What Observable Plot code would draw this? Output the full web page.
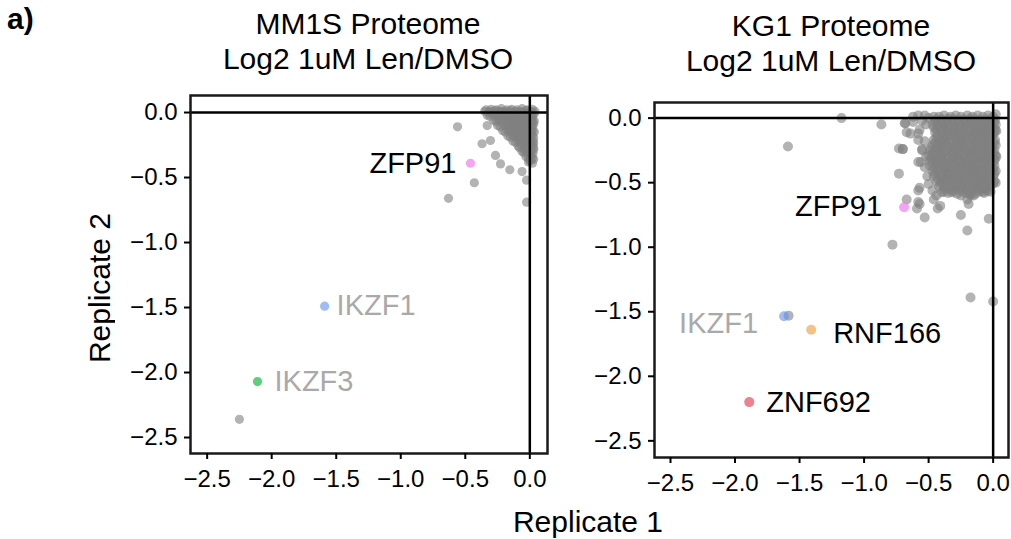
<!DOCTYPE html>
<html>
<head>
<meta charset="utf-8">
<script src="https://cdn.jsdelivr.net/npm/d3@7"></script>
<script src="https://cdn.jsdelivr.net/npm/@observablehq/plot@0.6"></script>
<style>
  body { margin: 0; background: white; }
  #wrap { position: relative; width: 1011px; height: 539px; overflow: hidden; background: white;
          font-family: 'Liberation Sans', Arial, Helvetica, sans-serif; color: black; }
  .abs { position: absolute; white-space: nowrap; }
  .title { font-size: 30px; line-height: 35px; text-align: center; transform: translateX(-50%); }
</style>
</head>
<body>
<div id="wrap">
  <div class="abs" style="left:7px; top:2px; font-size:30px; font-weight:bold;">a)</div>
  <div class="abs title" style="left:368px; top:6px;">MM1S Proteome<br>Log2 1uM Len/DMSO</div>
  <div class="abs title" style="left:831px; top:8px;">KG1 Proteome<br>Log2 1uM Len/DMSO</div>
  <div class="abs" style="left:100px; top:288px; font-size:30px; transform: translate(-50%,-50%) rotate(-90deg);">Replicate 2</div>
  <div class="abs" style="left:588px; top:522px; font-size:30px; transform: translate(-50%,-50%);">Replicate 1</div>
  <div id="p1" class="abs" style="left:115px; top:85px;"></div>
  <div id="p2" class="abs" style="left:580px; top:92px;"></div>
</div>
<script>
// ---------- data ----------
const xTicks = [-2.5, -2.0, -1.5, -1.0, -0.5, 0.0];
const yTicks = [-2.5, -2.0, -1.5, -1.0, -0.5, 0.0];

// MM1S: background proteins [replicate1, replicate2]
const mm1sGray = [
  [-2.25,-2.36],[-0.63,-0.66],[-0.43,-0.54],[-0.56,-0.11],[-0.025,-0.69],[-0.025,-0.52],
  [-0.155,-0.44],[-0.227,-0.395],[-0.37,-0.24],[-0.305,-0.215],[-0.06,-0.454],[-0.266,-0.33],[-0.33,-0.10],
  [-0.34,0.02],[-0.30,0.025],[-0.26,0.02],[-0.22,0.03],[-0.18,0.02],[-0.14,0.025],[-0.10,0.02],[-0.06,0.03],[-0.02,0.02],[0.02,0.025],
  [-0.33,-0.02],[-0.29,-0.01],[-0.25,-0.02],[-0.21,-0.015],[-0.16,-0.02],[-0.12,-0.01],[-0.08,-0.02],[-0.04,-0.015],[0.0,-0.02],[0.035,-0.01],
  [-0.28,-0.06],[-0.24,-0.055],[-0.20,-0.06],[-0.15,-0.05],[-0.11,-0.06],[-0.07,-0.055],[-0.03,-0.06],[0.01,-0.05],[0.035,-0.065],
  [-0.25,-0.10],[-0.20,-0.095],[-0.16,-0.10],[-0.12,-0.09],[-0.08,-0.10],[-0.04,-0.095],[0.0,-0.10],[0.03,-0.09],
  [-0.21,-0.14],[-0.17,-0.135],[-0.13,-0.14],[-0.09,-0.13],[-0.05,-0.14],[-0.01,-0.135],[0.025,-0.14],
  [-0.17,-0.18],[-0.13,-0.175],[-0.09,-0.18],[-0.05,-0.17],[-0.02,-0.185],[0.02,-0.18],
  [-0.13,-0.22],[-0.09,-0.215],[-0.05,-0.22],[-0.01,-0.21],[0.025,-0.22],
  [-0.09,-0.26],[-0.06,-0.255],[-0.02,-0.26],[0.02,-0.25],
  [-0.06,-0.30],[-0.03,-0.295],[0.01,-0.30],[0.03,-0.285],
  [-0.03,-0.34],[0.01,-0.335],[0.03,-0.36],
  [-0.01,-0.38],[0.02,-0.39],
  [-0.32,0.0],[-0.27,0.0],[-0.23,0.005],[-0.19,0.0],[-0.14,0.0],[-0.10,-0.005],[-0.06,0.0],[-0.02,0.0],[0.015,0.0],
  [-0.22,-0.04],[-0.18,-0.035],[-0.13,-0.04],[-0.09,-0.035],[-0.05,-0.04],[-0.01,-0.035],[0.02,-0.04],
  [-0.18,-0.08],[-0.14,-0.075],[-0.10,-0.08],[-0.06,-0.075],[-0.02,-0.08],[0.015,-0.075],
  [-0.15,-0.12],[-0.11,-0.115],[-0.07,-0.12],[-0.03,-0.115],[0.01,-0.12],
  [-0.11,-0.16],[-0.07,-0.155],[-0.03,-0.16],[0.01,-0.155],
  [-0.08,-0.20],[-0.04,-0.195],[0.0,-0.20],
  [-0.04,-0.24],[0.0,-0.235],[-0.04,-0.28],[0.0,-0.32],
  [-0.35,0.01],[-0.31,0.01],[-0.27,0.015],[-0.23,0.01],[-0.19,0.01],[-0.15,0.015],[-0.11,0.01],[-0.07,0.01],[-0.03,0.015],[0.01,0.01],[0.04,0.01],
  [-0.31,-0.03],[-0.27,-0.03],[-0.23,-0.025],[-0.19,-0.03],[-0.14,-0.03],[-0.10,-0.025],[-0.06,-0.03],[-0.02,-0.03],[0.02,-0.025],
  [-0.26,-0.07],[-0.22,-0.07],[-0.17,-0.065],[-0.13,-0.07],[-0.09,-0.07],[-0.05,-0.065],[-0.01,-0.07],[0.025,-0.07],
  [-0.23,-0.11],[-0.18,-0.11],[-0.14,-0.105],[-0.10,-0.11],[-0.06,-0.11],[-0.02,-0.105],[0.02,-0.11],
  [-0.19,-0.15],[-0.15,-0.15],[-0.11,-0.145],[-0.07,-0.15],[-0.03,-0.15],[0.01,-0.145],[0.035,-0.15],
  [-0.15,-0.19],[-0.11,-0.19],[-0.07,-0.185],[-0.03,-0.19],[0.0,-0.19],[0.03,-0.195],
  [-0.11,-0.23],[-0.07,-0.23],[-0.03,-0.225],[0.0,-0.23],[0.03,-0.235],
  [-0.08,-0.27],[-0.04,-0.27],[0.0,-0.265],[0.03,-0.27],
  [-0.045,-0.31],[-0.01,-0.31],[0.025,-0.315],
  [-0.01,-0.35],[0.02,-0.35],[0.0,-0.37]
];
const mm1sHits = [
  {gene: "ZFP91", x: -0.46, y: -0.39},
  {gene: "IKZF1", x: -1.59, y: -1.49},
  {gene: "IKZF3", x: -2.11, y: -2.07}
];

// KG1: background proteins [replicate1, replicate2]
const kg1Gray = [
  [-1.175,0.0],[-0.866,-0.05],[-1.59,-0.22],[-0.685,-0.04],[-0.64,-0.12],[-0.58,-0.17],[-0.73,-0.235],[-0.70,-0.24],
  [-0.55,-0.25],[-0.58,-0.34],[-0.73,-0.43],[-0.57,-0.54],[-0.67,-0.63],[-0.57,-0.665],[-0.59,-0.70],[-0.53,-0.77],
  [-0.43,-0.70],[-0.25,-0.75],[-0.19,-0.665],[-0.175,-0.60],[-0.20,-0.87],[-0.034,-0.78],[-0.78,-0.98],
  [-0.175,-1.39],[0.0,-1.42],[-1.585,-1.53],[-0.40,-0.575],[-0.32,-0.575],[-0.08,-0.57],[-0.50,-0.51],[-0.47,-0.56],
  [-0.67,-0.11],[-0.58,-0.12],[-0.55,-0.24],[-0.56,-0.34],[-0.70,-0.24],[-0.58,-0.56],[-0.46,-0.63],[-0.58,-0.65],
  [-0.41,-0.68],[-0.20,-0.63],[-0.18,-0.59],[-0.12,-0.55],[-0.06,-0.54],
  [-0.68,-0.04],[-0.62,0.01],[-0.58,0.02],[-0.53,0.02],[-0.50,0.0],[-0.55,-0.02],[-0.52,-0.05],[-0.57,-0.09],
  [-0.62,-0.03],[-0.53,-0.18],[-0.52,-0.30],[-0.53,-0.38],[-0.51,-0.45],[-0.44,-0.60],[-0.25,-0.60],[-0.15,-0.60],
  [-0.02,-0.57],[0.02,-0.50],[0.025,-0.30],[0.025,-0.10],[0.02,0.03],
  [-0.46,0.01],[-0.42,0.01],[-0.38,0.02],[-0.33,0.01],[-0.29,0.02],[-0.25,0.01],[-0.20,0.02],[-0.16,0.01],[-0.12,0.02],[-0.08,0.01],[-0.04,0.02],[0.0,0.01],
  [-0.45,-0.03],[-0.40,-0.03],[-0.36,-0.025],[-0.31,-0.03],[-0.27,-0.035],[-0.22,-0.03],[-0.18,-0.025],[-0.14,-0.03],[-0.10,-0.035],[-0.06,-0.03],[-0.02,-0.025],[0.01,-0.03],
  [-0.46,-0.07],[-0.42,-0.07],[-0.38,-0.065],[-0.34,-0.07],[-0.29,-0.075],[-0.25,-0.07],[-0.21,-0.065],[-0.16,-0.07],[-0.12,-0.075],[-0.08,-0.07],[-0.04,-0.065],[0.0,-0.07],
  [-0.45,-0.11],[-0.40,-0.11],[-0.36,-0.105],[-0.31,-0.11],[-0.27,-0.115],[-0.23,-0.11],[-0.19,-0.105],[-0.14,-0.11],[-0.10,-0.115],[-0.06,-0.11],[-0.02,-0.105],[0.01,-0.11],
  [-0.44,-0.15],[-0.39,-0.15],[-0.35,-0.145],[-0.30,-0.15],[-0.26,-0.155],[-0.21,-0.15],[-0.17,-0.145],[-0.13,-0.15],[-0.09,-0.155],[-0.05,-0.15],[-0.01,-0.145],
  [-0.45,-0.19],[-0.41,-0.19],[-0.37,-0.185],[-0.32,-0.19],[-0.28,-0.195],[-0.24,-0.19],[-0.19,-0.185],[-0.15,-0.19],[-0.11,-0.195],[-0.07,-0.19],[-0.03,-0.185],[0.01,-0.19],
  [-0.48,-0.23],[-0.43,-0.23],[-0.39,-0.225],[-0.34,-0.23],[-0.30,-0.235],[-0.26,-0.23],[-0.22,-0.225],[-0.17,-0.23],[-0.13,-0.235],[-0.09,-0.23],[-0.05,-0.225],[-0.01,-0.23],
  [-0.47,-0.27],[-0.42,-0.27],[-0.38,-0.265],[-0.33,-0.27],[-0.29,-0.275],[-0.25,-0.27],[-0.20,-0.265],[-0.16,-0.27],[-0.12,-0.275],[-0.08,-0.27],[-0.04,-0.265],[0.0,-0.27],
  [-0.48,-0.31],[-0.44,-0.31],[-0.40,-0.305],[-0.35,-0.31],[-0.31,-0.315],[-0.27,-0.31],[-0.22,-0.305],[-0.18,-0.31],[-0.14,-0.315],[-0.10,-0.31],[-0.06,-0.305],[-0.02,-0.31],[0.01,-0.315],
  [-0.47,-0.35],[-0.43,-0.35],[-0.38,-0.345],[-0.34,-0.35],[-0.30,-0.355],[-0.25,-0.35],[-0.21,-0.345],[-0.17,-0.35],[-0.13,-0.355],[-0.09,-0.35],[-0.05,-0.345],[-0.01,-0.35],
  [-0.46,-0.39],[-0.41,-0.39],[-0.37,-0.385],[-0.33,-0.39],[-0.28,-0.395],[-0.24,-0.39],[-0.20,-0.385],[-0.16,-0.39],[-0.12,-0.395],[-0.08,-0.39],[-0.04,-0.385],[0.0,-0.39],
  [-0.45,-0.43],[-0.40,-0.43],[-0.36,-0.425],[-0.32,-0.43],[-0.27,-0.435],[-0.23,-0.43],[-0.19,-0.425],[-0.15,-0.43],[-0.11,-0.435],[-0.07,-0.43],[-0.03,-0.425],[0.01,-0.43],
  [-0.43,-0.47],[-0.39,-0.47],[-0.35,-0.465],[-0.30,-0.47],[-0.26,-0.475],[-0.22,-0.47],[-0.18,-0.465],[-0.14,-0.47],[-0.10,-0.475],[-0.06,-0.47],[-0.02,-0.465],
  [-0.41,-0.51],[-0.37,-0.51],[-0.32,-0.505],[-0.28,-0.51],[-0.24,-0.515],[-0.20,-0.51],[-0.16,-0.505],[-0.12,-0.51],[-0.08,-0.515],[-0.04,-0.51],[0.0,-0.505],
  [-0.38,-0.55],[-0.33,-0.55],[-0.29,-0.545],[-0.25,-0.55],[-0.21,-0.555],[-0.17,-0.55],[-0.13,-0.545],[-0.09,-0.55],[-0.05,-0.555],
  [-0.35,-0.58],[-0.28,-0.585],[-0.21,-0.58],[-0.14,-0.585],[-0.07,-0.58],
  [-0.44,-0.01],[-0.40,-0.01],[-0.35,-0.005],[-0.31,-0.01],[-0.27,-0.015],[-0.23,-0.01],[-0.18,-0.005],[-0.14,-0.01],[-0.10,-0.015],[-0.06,-0.01],[-0.02,-0.005],[0.015,-0.01],
  [-0.47,-0.05],[-0.43,-0.05],[-0.38,-0.045],[-0.34,-0.05],[-0.30,-0.055],[-0.25,-0.05],[-0.21,-0.045],[-0.17,-0.05],[-0.13,-0.055],[-0.09,-0.05],[-0.05,-0.045],[-0.01,-0.05],[0.02,-0.05],
  [-0.44,-0.09],[-0.40,-0.09],[-0.36,-0.085],[-0.31,-0.09],[-0.27,-0.095],[-0.23,-0.09],[-0.19,-0.085],[-0.14,-0.09],[-0.10,-0.095],[-0.06,-0.09],[-0.02,-0.085],[0.015,-0.09],
  [-0.43,-0.13],[-0.38,-0.13],[-0.34,-0.125],[-0.29,-0.13],[-0.25,-0.135],[-0.21,-0.13],[-0.16,-0.125],[-0.12,-0.13],[-0.08,-0.135],[-0.04,-0.13],[0.0,-0.125],
  [-0.46,-0.17],[-0.42,-0.17],[-0.37,-0.165],[-0.33,-0.17],[-0.28,-0.175],[-0.24,-0.17],[-0.19,-0.165],[-0.15,-0.17],[-0.11,-0.175],[-0.07,-0.17],[-0.03,-0.165],[0.015,-0.17],
  [-0.47,-0.21],[-0.43,-0.21],[-0.39,-0.205],[-0.35,-0.21],[-0.30,-0.215],[-0.26,-0.21],[-0.22,-0.205],[-0.17,-0.21],[-0.13,-0.215],[-0.09,-0.21],[-0.05,-0.205],[-0.01,-0.21],[0.02,-0.21],
  [-0.49,-0.25],[-0.45,-0.25],[-0.41,-0.245],[-0.36,-0.25],[-0.32,-0.255],[-0.28,-0.25],[-0.23,-0.245],[-0.19,-0.25],[-0.15,-0.255],[-0.11,-0.25],[-0.07,-0.245],[-0.03,-0.25],[0.01,-0.25],
  [-0.50,-0.29],[-0.45,-0.29],[-0.40,-0.285],[-0.36,-0.29],[-0.31,-0.295],[-0.27,-0.29],[-0.23,-0.285],[-0.18,-0.29],[-0.14,-0.295],[-0.10,-0.29],[-0.06,-0.285],[-0.02,-0.29],[0.02,-0.29],
  [-0.49,-0.33],[-0.45,-0.33],[-0.41,-0.325],[-0.37,-0.33],[-0.32,-0.335],[-0.28,-0.33],[-0.24,-0.325],[-0.20,-0.33],[-0.15,-0.335],[-0.11,-0.33],[-0.07,-0.325],[-0.03,-0.33],[0.01,-0.33],
  [-0.49,-0.37],[-0.44,-0.37],[-0.40,-0.365],[-0.36,-0.37],[-0.31,-0.375],[-0.27,-0.37],[-0.23,-0.365],[-0.19,-0.37],[-0.15,-0.375],[-0.11,-0.37],[-0.07,-0.365],[-0.03,-0.37],[0.01,-0.37],
  [-0.47,-0.41],[-0.43,-0.41],[-0.38,-0.405],[-0.34,-0.41],[-0.30,-0.415],[-0.26,-0.41],[-0.21,-0.405],[-0.17,-0.41],[-0.13,-0.415],[-0.09,-0.41],[-0.05,-0.405],[-0.01,-0.41],[0.02,-0.41],
  [-0.46,-0.45],[-0.41,-0.45],[-0.37,-0.445],[-0.33,-0.45],[-0.29,-0.455],[-0.25,-0.45],[-0.21,-0.445],[-0.16,-0.45],[-0.12,-0.455],[-0.08,-0.45],[-0.04,-0.445],[0.0,-0.45],
  [-0.44,-0.49],[-0.40,-0.49],[-0.36,-0.485],[-0.32,-0.49],[-0.28,-0.495],[-0.24,-0.49],[-0.20,-0.485],[-0.16,-0.49],[-0.12,-0.495],[-0.08,-0.49],[-0.04,-0.485],[0.01,-0.49],
  [-0.42,-0.53],[-0.38,-0.53],[-0.34,-0.525],[-0.30,-0.53],[-0.26,-0.535],[-0.22,-0.53],[-0.18,-0.525],[-0.14,-0.53],[-0.10,-0.535],[-0.06,-0.53],[-0.02,-0.525],
  [-0.38,-0.57],[-0.31,-0.565],[-0.24,-0.57],[-0.18,-0.565],[-0.11,-0.57],[-0.04,-0.565]
];
const kg1Hits = [
  {gene: "ZFP91", x: -0.69, y: -0.69},
  {gene: "IKZF1", x: -1.62, y: -1.535},
  {gene: "RNF166", x: -1.41, y: -1.64},
  {gene: "ZNF692", x: -1.89, y: -2.20}
];

// ---------- styles ----------
const font = "'Liberation Sans', Arial, Helvetica, sans-serif";
const dotColor = {
  ZFP91: {fill: "#ee82ee", op: 0.72},
  IKZF1: {fill: "#6495ed", op: 0.62},
  IKZF3: {fill: "#5ccf7b", op: 1},
  RNF166: {fill: "#f5c286", op: 1},
  ZNF692: {fill: "#f0808f", op: 1}
};
const labelColor = {ZFP91: "black", IKZF1: "#a9a9a9", IKZF3: "#a9a9a9", RNF166: "black", ZNF692: "black"};
const mm1sLabelPos = {ZFP91: {a: "end", dx: -14, dy: 0}, IKZF1: {a: "start", dx: 12, dy: 0}, IKZF3: {a: "start", dx: 17, dy: 0}};
const kg1LabelPos = {ZFP91: {a: "end", dx: -22, dy: 0}, IKZF1: {a: "end", dx: -26, dy: 7},
                     RNF166: {a: "start", dx: 22, dy: 4}, ZNF692: {a: "start", dx: 17, dy: 1}};

const fmt = d3.format(".1f");

function panel({gray, hits, pos, xDomain, yDomain, r, width, height, ml, mr, mt, mb}) {
  const hitMarks = hits.map(h => {
    const c = dotColor[h.gene];
    return Plot.dot([h], {x: "x", y: "y", r, fill: c.fill, fillOpacity: c.op});
  });
  const textMarks = hits.map(h => {
    const p = pos[h.gene];
    return Plot.text([h], {x: "x", y: "y", text: "gene", textAnchor: p.a, dx: p.dx, dy: p.dy,
                           fontSize: 29, fill: labelColor[h.gene], fontFamily: font});
  });
  return Plot.plot({
    width, height, marginLeft: ml, marginRight: mr, marginTop: mt, marginBottom: mb,
    style: {fontFamily: font, fontSize: "24px", color: "black", background: "white", maxWidth: "none", overflow: "visible"},
    x: {domain: xDomain},
    y: {domain: yDomain},
    marks: [
      Plot.dot(gray, {x: d => d[0], y: d => d[1], r, fill: "#808080", fillOpacity: 0.6}),
      ...hitMarks,
      Plot.ruleX([0], {stroke: "black", strokeWidth: 2.5}),
      Plot.ruleY([0], {stroke: "black", strokeWidth: 2.5}),
      ...textMarks,
      Plot.frame({stroke: "#1a1a1a", strokeWidth: 2.5}),
      Plot.axisX({ticks: xTicks, tickFormat: fmt, tickSize: 6, tickPadding: 10, strokeWidth: 2, fontSize: 24, label: null}),
      Plot.axisY({ticks: yTicks, tickFormat: fmt, tickSize: 6, tickPadding: 7, strokeWidth: 2, fontSize: 24, label: null})
    ]
  });
}

document.getElementById("p1").append(panel({
  gray: mm1sGray, hits: mm1sHits, pos: mm1sLabelPos,
  xDomain: [-2.629, 0.137], yDomain: [-2.623, 0.131], r: 4.6,
  width: 442, height: 418, ml: 75, mr: 10, mt: 10, mb: 50
}));
document.getElementById("p2").append(panel({
  gray: kg1Gray, hits: kg1Hits, pos: kg1LabelPos,
  xDomain: [-2.624, 0.119], yDomain: [-2.629, 0.121], r: 5,
  width: 431, height: 415, ml: 74, mr: 3, mt: 10, mb: 50
}));
</script>
</body>
</html>
